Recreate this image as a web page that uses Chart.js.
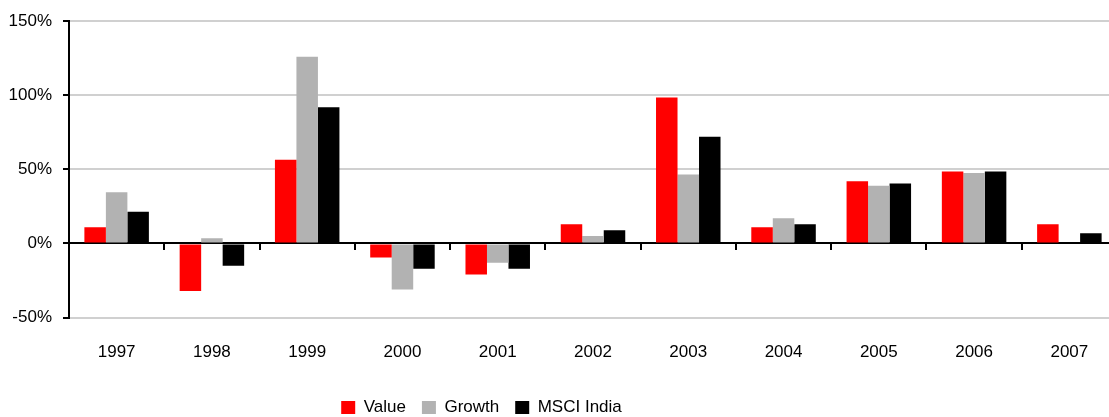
<!DOCTYPE html>
<html>
<head>
<meta charset="utf-8">
<script src="https://cdn.jsdelivr.net/npm/chart.js@4/dist/chart.umd.min.js"></script>
<style>
  html, body { margin: 0; padding: 0; background: #fff; overflow: hidden; }
  #wrap { width: 1120px; height: 417px; }
</style>
</head>
<body>
<div id="wrap"><canvas id="bar-chart"></canvas></div>
<script>
// data (annual returns, %)
var years = ["1997", "1998", "1999", "2000", "2001", "2002", "2003", "2004", "2005", "2006", "2007"];
var valueRet = [11, -32, 56.5, -9.5, -21, 13, 98.5, 11, 42, 48.5, 13];
var growthRet = [34.5, 3.5, 126, -31, -13, 5, 46.5, 17, 39, 47.5, null];
var msciRet = [21.5, -15, 92, -17, -17, 9, 72, 13, 40.5, 48.5, 7];
var yTicks = [-50, 0, 50, 100, 150];

var font17 = { family: "'Liberation Sans', Arial, sans-serif", size: 17 };

// legend in the original sits left of the canvas centre
var legendShift = {
  id: 'legendShift',
  afterLayout(chart) {
    var lg = chart.legend;
    lg.right = lg.left + 963;
  }
};

var mychart = new Chart(document.getElementById("bar-chart"), {
  type: 'bar',
  data: {
    labels: years,
    datasets: [
      { label: "Value", backgroundColor: "#ff0000", data: valueRet },
      { label: "Growth", backgroundColor: "#b2b2b2", data: growthRet },
      { label: "MSCI India", backgroundColor: "#000000", data: msciRet }
    ]
  },
  options: {
    responsive: true,
    maintainAspectRatio: false,
    animation: false,
    layout: { padding: { top: 19, right: 3, left: 0, bottom: -9 } },
    datasets: { bar: { barPercentage: 1, categoryPercentage: 0.677 } },
    plugins: {
      legend: {
        position: 'bottom',
        labels: {
          font: font17,
          color: '#000',
          boxWidth: 14,
          boxHeight: 13,
          padding: 16
        }
      },
      tooltip: { enabled: false }
    },
    scales: {
      y: {
        min: -50,
        max: 150,
        afterBuildTicks(scale) {
          scale.ticks = yTicks.map(v => ({ value: v }));
        },
        afterFit(scale) { scale.width = 69; },
        border: { color: '#000', width: 2 },
        grid: {
          color: '#d0d0d0',
          lineWidth: 2,
          tickColor: '#000',
          tickLength: 6
        },
        ticks: {
          font: font17,
          color: '#000',
          padding: 11,
          callback: v => v + '%'
        }
      },
      x: {
        position: { y: 0 },
        offset: true,
        border: { color: '#000', width: 2 },
        grid: {
          offset: true,
          drawOnChartArea: false,
          drawTicks: true,
          tickLength: 6,
          tickColor: '#000',
          lineWidth: 2
        },
        ticks: { display: false }
      },
      x2: {
        axis: 'x',
        type: 'category',
        position: 'bottom',
        offset: true,
        afterFit(scale) { scale.height = 65.4; },
        border: { display: false },
        grid: { display: false, drawTicks: false },
        ticks: { font: font17, color: '#000', padding: 25, maxRotation: 0 }
      }
    }
  },
  plugins: [legendShift]
});
</script>
</body>
</html>
